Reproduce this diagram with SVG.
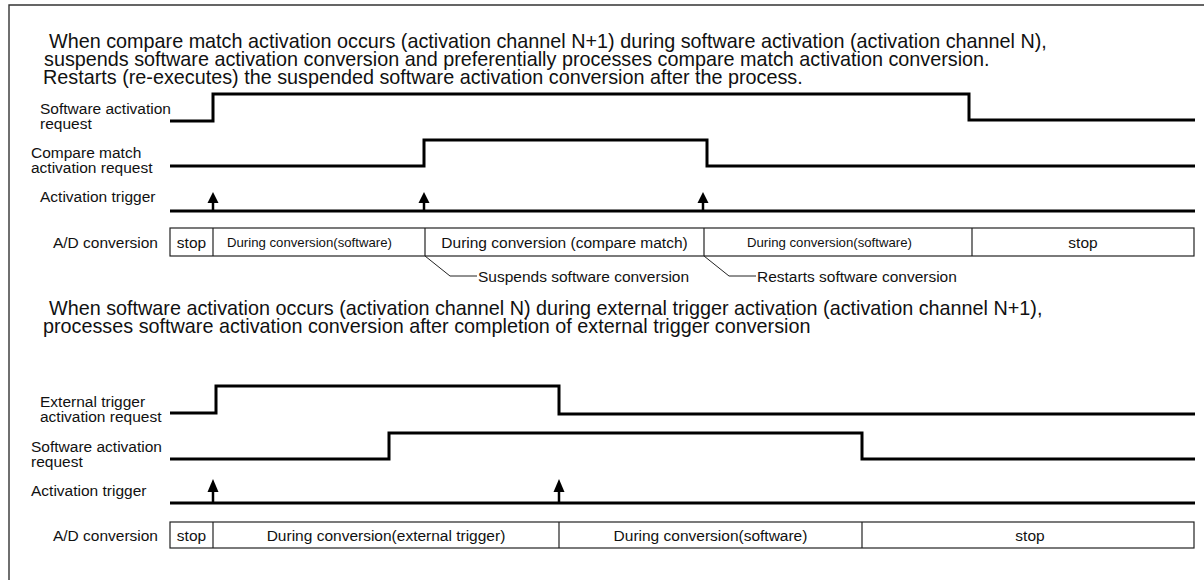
<svg xmlns="http://www.w3.org/2000/svg" width="1204" height="580" viewBox="0 0 1204 580">
<defs>
<style>
text{font-family:"Liberation Sans",Arial,sans-serif;fill:#111}
.title{font-size:19.8px}
.lbl{font-size:15.5px}
.sm{font-size:13.2px}
.wave{fill:none;stroke:#000;stroke-width:3;stroke-linejoin:miter}
.box{fill:#fff;stroke:#222;stroke-width:1.2}
.div{stroke:#222;stroke-width:1.2}
.lead{fill:none;stroke:#222;stroke-width:1}
.shaft{stroke:#000;stroke-width:2.5}
.head{fill:#000}
</style>
</defs>
<rect width="1204" height="580" fill="#fff"/>
<path d="M1210,5 H9 V590" fill="none" stroke="#333" stroke-width="1.4"/>

<g id="title1" class="title">
<text x="49" y="48">When compare match activation occurs (activation channel N+1) during software activation (activation channel N),</text>
<text x="44" y="66">suspends software activation conversion and preferentially processes compare match activation conversion.</text>
<text x="43" y="84">Restarts (re-executes) the suspended software activation conversion after the process.</text>
</g>

<g id="s1-sw">
<text class="lbl" x="40" y="114">Software activation</text>
<text class="lbl" x="40" y="129">request</text>
<path class="wave" d="M170,121 H213 V94 H969 V120 H1195"/>
</g>
<g id="s1-cm">
<text class="lbl" x="31" y="158">Compare match</text>
<text class="lbl" x="31" y="173">activation request</text>
<path class="wave" d="M170,166 H424 V140 H707 V166 H1195"/>
</g>
<g id="s1-trig">
<text class="lbl" x="40" y="202">Activation trigger</text>
<path class="wave" d="M170,211 H1195"/>
</g>
<g id="s1-ad">
<text class="lbl" x="158" y="247.5" text-anchor="end">A/D conversion</text>
<rect class="box" x="170" y="228" width="1024" height="28"/>
<line class="div" x1="213" y1="228" x2="213" y2="256"/>
<line class="div" x1="425" y1="228" x2="425" y2="256"/>
<line class="div" x1="704" y1="228" x2="704" y2="256"/>
<line class="div" x1="972" y1="228" x2="972" y2="256"/>
<text class="lbl" x="191.5" y="247.5" text-anchor="middle">stop</text>
<text class="sm" x="227" y="246.5">During conversion(software)</text>
<text class="lbl" x="564.5" y="247.5" text-anchor="middle">During conversion (compare match)</text>
<text class="sm" x="747" y="246.5">During conversion(software)</text>
<text class="lbl" x="1083" y="247.5" text-anchor="middle">stop</text>
</g>
<g id="s1-notes" class="lbl">
<text x="478" y="282">Suspends software conversion</text>
<text x="757" y="282">Restarts software conversion</text>
</g>

<g id="title2" class="title">
<text x="49" y="315">When software activation occurs (activation channel N) during external trigger activation (activation channel N+1),</text>
<text x="43" y="333">processes software activation conversion after completion of external trigger conversion</text>
</g>

<g id="s2-ext">
<text class="lbl" x="40" y="407">External trigger</text>
<text class="lbl" x="40" y="422">activation request</text>
<path class="wave" d="M170,413 H216 V386 H559 V414 H1195"/>
</g>
<g id="s2-sw">
<text class="lbl" x="31" y="452">Software activation</text>
<text class="lbl" x="31" y="467">request</text>
<path class="wave" d="M170,459 H389 V433 H862 V459 H1195"/>
</g>
<g id="s2-trig">
<text class="lbl" x="31" y="496">Activation trigger</text>
<path class="wave" d="M170,503 H1195"/>
</g>
<g id="s2-ad">
<text class="lbl" x="158" y="540.5" text-anchor="end">A/D conversion</text>
<rect class="box" x="170" y="522" width="1024" height="26"/>
<line class="div" x1="213" y1="522" x2="213" y2="548"/>
<line class="div" x1="559" y1="522" x2="559" y2="548"/>
<line class="div" x1="862" y1="522" x2="862" y2="548"/>
<text class="lbl" x="191.5" y="540.5" text-anchor="middle">stop</text>
<text class="lbl" x="386" y="540.5" text-anchor="middle">During conversion(external trigger)</text>
<text class="lbl" x="710.5" y="540.5" text-anchor="middle">During conversion(software)</text>
<text class="lbl" x="1030" y="540.5" text-anchor="middle">stop</text>
</g>

<g id="connectors">
<line class="shaft" x1="213" y1="211" x2="213" y2="200"/>
<polygon class="head" points="207.5,203 218.5,203 213,192"/>
<line class="shaft" x1="424" y1="211" x2="424" y2="200"/>
<polygon class="head" points="418.5,203 429.5,203 424,192"/>
<line class="shaft" x1="703" y1="211" x2="703" y2="200"/>
<polygon class="head" points="697.5,203 708.5,203 703,192"/>
<line class="shaft" x1="213" y1="503" x2="213" y2="490"/>
<polygon class="head" points="207.5,492 218.5,492 213,479"/>
<line class="shaft" x1="559" y1="503" x2="559" y2="490"/>
<polygon class="head" points="553.5,492 564.5,492 559,479"/>
<path class="lead" d="M425,256 L450,276 H477"/>
<path class="lead" d="M704,256 L729,276 H756"/>
</g>
</svg>
